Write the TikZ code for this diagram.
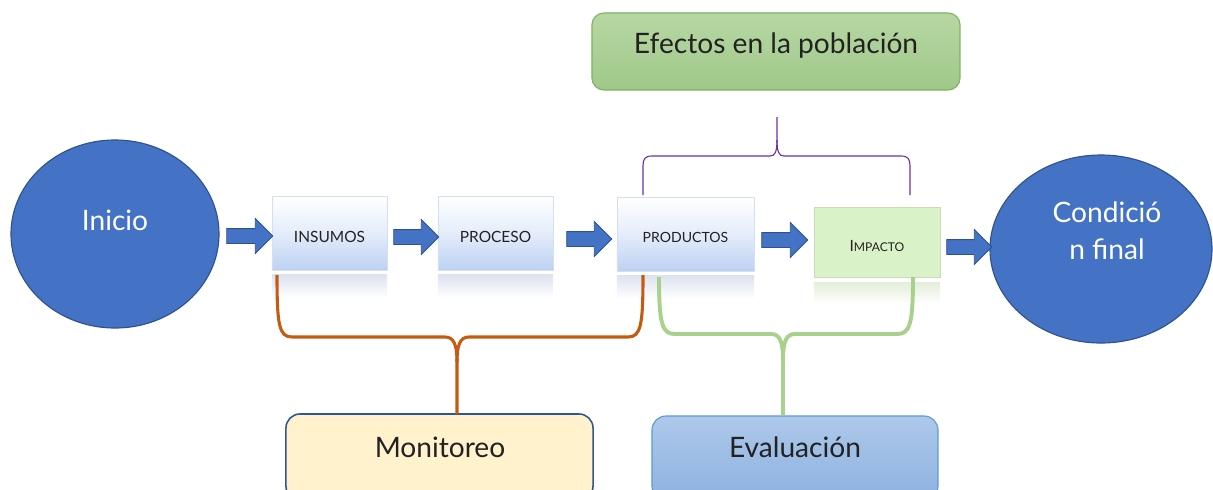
\documentclass[tikz,border=0pt]{standalone}
\usepackage{fontspec}
\setmainfont{Lato}
\usetikzlibrary{shapes.geometric,shapes.arrows}
\definecolor{ellblue}{HTML}{4472C4}
\definecolor{elldark}{HTML}{2F528F}
\definecolor{boxblue}{HTML}{BCD1F3}
\definecolor{boxedge}{HTML}{D5DFEF}
\definecolor{impgreen}{HTML}{D9F2C8}
\definecolor{impedge}{HTML}{C6DDB6}
\definecolor{reflblue}{HTML}{DCE2EF}
\definecolor{reflgreen}{HTML}{E3EED9}
\definecolor{efTop}{HTML}{B7D7A3}
\definecolor{efBot}{HTML}{A0C88A}
\definecolor{efEdge}{HTML}{7EB35B}
\definecolor{evTop}{HTML}{ADC8EA}
\definecolor{evBot}{HTML}{8DB2E0}
\definecolor{evEdge}{HTML}{5B9BD5}
\definecolor{monFill}{HTML}{FFF2CC}
\definecolor{monEdge}{HTML}{2F5597}
\definecolor{braceOrange}{HTML}{C55A11}
\definecolor{braceGreen}{HTML}{A9D18E}
\definecolor{bracePurple}{HTML}{7030A0}
\definecolor{txt}{HTML}{222222}
\tikzset{
  bigtext/.style={font=\fontsize{20}{24}\selectfont, text=txt, anchor=base, inner sep=0},
  whitetext/.style={bigtext, text=white},
  smalltext/.style={font=\fontsize{11}{13}\selectfont, text=txt, anchor=base, inner sep=0},
  oval/.style={ellipse, fill=ellblue, draw=elldark, line width=0.8pt, inner sep=0},
  stepbox/.style={rectangle, draw=boxedge, line width=0.6pt, top color=white, bottom color=boxblue, middle color=white!60!boxblue, inner sep=0},
  impbox/.style={rectangle, draw=impedge, line width=0.6pt, fill=impgreen, inner sep=0},
  refl/.style={rectangle, top color=reflblue, bottom color=white, draw=none, inner sep=0},
  reflg/.style={rectangle, top color=reflgreen, bottom color=white, draw=none, inner sep=0},
  blockarrow/.style={single arrow, fill=ellblue, draw=elldark, line width=0.6pt, inner sep=0.175cm, single arrow head extend=0.25cm, single arrow tip angle=90},
  orangebrace/.style={draw=braceOrange, line width=2.2pt},
  greenbrace/.style={draw=braceGreen, line width=2.8pt},
  purplebrace/.style={draw=bracePurple, line width=0.8pt},
}
\begin{document}
\begin{tikzpicture}[x=0.025cm, y=-0.025cm]
\useasboundingbox (0,0) rectangle (1213,489);
\clip (0,0) rectangle (1213,489);

% ellipses
\node[oval, minimum width=5.2cm, minimum height=4.7cm] (inicio) at (115,234) {};
\node[whitetext] (inicioT) at (115,230) {Inicio};
\node[oval, minimum width=5.55cm, minimum height=4.7cm] (cond) at (1101,249) {};
\node[whitetext] (condT1) at (1107,222) {Condició};
\node[whitetext] (condT2) at (1107,259) {n final};

% reflections
\node[refl, minimum width=2.875cm, minimum height=0.6cm] (insR) at (329.5,286) {};
\node[refl, minimum width=2.875cm, minimum height=0.6cm] (proR) at (495.5,286) {};
\node[refl, minimum width=3.425cm, minimum height=0.6cm] (prodR) at (685.5,287) {};
\node[reflg, minimum width=3.15cm, minimum height=0.55cm] (impR) at (877,293) {};

% step boxes
\node[stepbox, minimum width=2.875cm, minimum height=1.85cm] (ins) at (329.5,233) {};
\node[smalltext] (insT) at (329.5,242) {INSUMOS};
\node[stepbox, minimum width=2.875cm, minimum height=1.85cm] (pro) at (495.5,233) {};
\node[smalltext] (proT) at (495.5,242) {PROCESO};
\node[stepbox, minimum width=3.425cm, minimum height=1.85cm] (prod) at (685.5,234) {};
\node[smalltext, font=\fontsize{10}{12}\selectfont] (prodT) at (685.5,242) {PRODUCTOS};
\node[impbox, minimum width=3.15cm, minimum height=1.75cm] (imp) at (877,242) {};
\node[smalltext] (impT) at (877,251) {I{\fontsize{8.6}{10}\selectfont MPACTO}};

% block arrows
\node[blockarrow, minimum height=1.15cm] (a1) at (246,236) {};
\node[blockarrow, minimum height=1.125cm] (a2) at (412.5,237) {};
\node[blockarrow, minimum height=1.125cm] (a3) at (585.5,239) {};
\node[blockarrow, minimum height=1.15cm] (a4) at (781,240) {};
\node[blockarrow, minimum height=1.125cm] (a5) at (965.5,247) {};

% top box
\node[rectangle, rounded corners=0.3cm, draw=efEdge, line width=0.8pt, top color=efTop, bottom color=efBot, minimum width=9.2cm, minimum height=1.925cm] (ef) at (776,51.5) {};
\node[bigtext] (efT) at (776,53) {Efectos en la población};

% bottom boxes
\node[rectangle, rounded corners=0.35cm, draw=monEdge, line width=1.1pt, fill=monFill, minimum width=7.675cm, minimum height=2.15cm] (mon) at (439.5,457) {};
\node[bigtext] (monT) at (440,457) {Monitoreo};
\node[rectangle, rounded corners=0.35cm, draw=evEdge, line width=0.8pt, top color=evTop, bottom color=evBot, minimum width=7.15cm, minimum height=2.1cm] (ev) at (795,458) {};
\node[bigtext] (evT) at (795,457) {Evaluación};

% brace end points
\coordinate (oL) at (277,275);
\coordinate (oR) at (643,275);
\coordinate (gL) at (659,277);
\coordinate (gR) at (913,277);
\coordinate (gC) at (ev.north -| 783,0);
\coordinate (pL) at (643,195);
\coordinate (pR) at (910,195);
\coordinate (pC) at (777,117);

% orange brace
\draw[orangebrace] (oL) .. controls (277,325) and (279,337) .. (292,337) -- (445,337)
  .. controls (454,337) and (457,345) .. (457,362) -- (457,414);
\draw[orangebrace] (oR) .. controls (643,325) and (641,337) .. (628,337) -- (469,337)
  .. controls (460,337) and (457,345) .. (457,362);

% green brace
\draw[greenbrace] (gL) .. controls (659,324) and (662,334) .. (675,334) -- (771,334)
  .. controls (780,334) and (783,342) .. (783,360) -- (gC);
\draw[greenbrace] (gR) .. controls (913,324) and (910,334) .. (897,334) -- (795,334)
  .. controls (786,334) and (783,342) .. (783,360);

% purple brace
\draw[purplebrace] (pL) -- (643,166) .. controls (643,159) and (645,156) .. (652,156) -- (770,156)
  .. controls (775,156) and (777,152) .. (777,140) -- (pC);
\draw[purplebrace] (pR) -- (910,166) .. controls (910,159) and (908,156) .. (901,156) -- (784,156)
  .. controls (779,156) and (777,152) .. (777,140);
\end{tikzpicture}
\end{document}
